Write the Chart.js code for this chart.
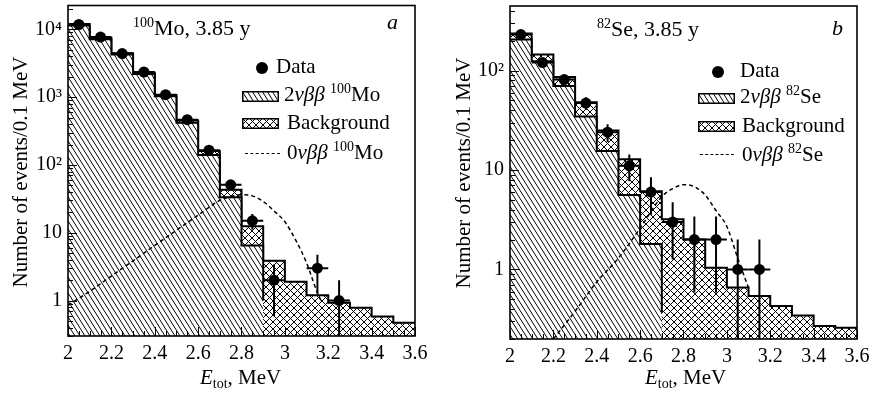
<!DOCTYPE html>
<html>
<head>
<meta charset="utf-8">
<script src="https://cdn.jsdelivr.net/npm/chart.js@4/dist/chart.umd.min.js"></script>
<style>
  body { margin: 0; background: #fff; }
  #wrap { position: relative; width: 872px; height: 396px; overflow: hidden;
          font-family: 'Liberation Serif', 'Times New Roman', serif; color: #000; }
  #wrap canvas { position: absolute; top: 0; }
  .t { position: absolute; white-space: nowrap; line-height: 1; font-size: 21px; }
  .big { font-size: 22px; }
  .t sup { font-size: 14px; position: relative; top: -8px; vertical-align: baseline; }
  .t sub { font-size: 14px; position: relative; top: 4px; vertical-align: baseline; }
  .ytitle { position: absolute; width: 300px; height: 24px; line-height: 24px; font-size: 21px;
            text-align: center; transform: rotate(-90deg); white-space: nowrap; }
  .patch { position: absolute; }
  .dot { position: absolute; width: 12px; height: 12px; border-radius: 50%; background: #000; }
  .dash { position: absolute; height: 0; border-top: 1.5px dashed #000; }
</style>
</head>
<body>
<div id="wrap">
  <canvas id="ca" width="436" height="396" style="left:0"></canvas>
  <canvas id="cb" width="436" height="396" style="left:436px"></canvas>

  <!-- panel a -->
  <div class="t big" style="left:133px;top:17px"><sup>100</sup>Mo, 3.85 y</div>
  <div class="t big" style="left:387px;top:11px"><i>a</i></div>
  <div class="dot" style="left:256px;top:62px"></div>
  <div class="t" style="left:276px;top:56px">Data</div>
  <canvas class="patch" id="pa1" width="37" height="11" style="left:242px;top:91px"></canvas>
  <div class="t" style="left:284px;top:84px">2<i>νββ</i> <sup>100</sup>Mo</div>
  <canvas class="patch" id="pa2" width="37" height="11" style="left:242px;top:118px"></canvas>
  <div class="t" style="left:287px;top:112px">Background</div>
  <div class="dash" style="left:245px;top:153px;width:35px"></div>
  <div class="t" style="left:287px;top:142px">0<i>νββ</i> <sup>100</sup>Mo</div>
  <div class="t" style="left:200px;top:367px"><i>E</i><sub>tot</sub>, MeV</div>
  <div class="ytitle" style="left:-130px;top:160px">Number of events/0.1 MeV</div>

  <!-- panel b -->
  <div class="t big" style="left:597px;top:18px"><sup>82</sup>Se, 3.85 y</div>
  <div class="t big" style="left:832px;top:17px"><i>b</i></div>
  <div class="dot" style="left:712px;top:66px"></div>
  <div class="t" style="left:740px;top:60px">Data</div>
  <canvas class="patch" id="pb1" width="37" height="11" style="left:698px;top:93px"></canvas>
  <div class="t" style="left:740px;top:86px">2<i>νββ</i> <sup>82</sup>Se</div>
  <canvas class="patch" id="pb2" width="37" height="11" style="left:698px;top:121px"></canvas>
  <div class="t" style="left:742px;top:115px">Background</div>
  <div class="dash" style="left:700px;top:154px;width:34px"></div>
  <div class="t" style="left:742px;top:144px">0<i>νββ</i> <sup>82</sup>Se</div>
  <div class="t" style="left:645px;top:367px"><i>E</i><sub>tot</sub>, MeV</div>
  <div class="ytitle" style="left:313px;top:161px">Number of events/0.1 MeV</div>
</div>

<script>
// ---- data ----
const binLeft = [2.0, 2.1, 2.2, 2.3, 2.4, 2.5, 2.6, 2.7, 2.8, 2.9, 3.0, 3.1, 3.2, 3.3, 3.4, 3.5];
const binEnd = 3.6;
const binWidth = 0.1;

const xTicks = [2, 2.2, 2.4, 2.6, 2.8, 3, 3.2, 3.4, 3.6];
const xTickLabels = ['2', '2.2', '2.4', '2.6', '2.8', '3', '3.2', '3.4', '3.6'];

// 100Mo
const moTotal = [12000, 7500, 4450, 2300, 1080, 453, 161, 43, 12.5, 3.85, 1.9, 1.2, 0.93, 0.78, 0.58, 0.47];
const moTwoNu = [11400, 7150, 4250, 2200, 1030, 420, 140, 33.5, 6.5, 1.0, 0, 0, 0, 0, 0, 0];
const moDataE = [2.05, 2.15, 2.25, 2.35, 2.45, 2.55, 2.65, 2.75, 2.85, 2.95, 3.15, 3.25];
const moDataN = [11800, 7700, 4400, 2350, 1090, 465, 165, 51, 15, 2, 3, 1];
const moZeroNuE = [2.0, 2.1, 2.2, 2.3, 2.4, 2.5, 2.6, 2.7, 2.75, 2.8, 2.85, 2.9, 2.95, 3.0, 3.05, 3.1, 3.15, 3.17];
const moZeroNuY = [0.85, 1.37, 2.3, 3.85, 6.5, 10.9, 18.2, 30, 34.5, 36.5, 35, 29, 21, 14.5, 7.8, 3.6, 1.3, 0.95];
const moYTicks = [1, 10, 100, 1000, 10000];
const moYLabels = ['1', '10', '10²', '10³', '10⁴'];

// 82Se
const seTotal = [235, 145, 86, 48, 25, 12.8, 6.1, 3.2, 2.0, 1.04, 0.66, 0.54, 0.43, 0.345, 0.27, 0.26];
const seTwoNu = [205, 124, 70, 34.5, 15.5, 5.6, 1.8, 0.37, 0, 0, 0, 0, 0, 0, 0, 0];
const seDataE = [2.05, 2.15, 2.25, 2.35, 2.45, 2.55, 2.65, 2.75, 2.85, 2.95, 3.05, 3.15];
const seDataN = [230, 120, 81, 47, 24, 11, 6, 3, 2, 2, 1, 1];
const seZeroNuE = [2.2, 2.3, 2.4, 2.5, 2.6, 2.7, 2.75, 2.8, 2.85, 2.9, 2.95, 3.0, 3.05, 3.1];
const seZeroNuY = [0.2, 0.38, 0.75, 1.3, 2.6, 5.4, 6.5, 7.1, 6.8, 5.6, 3.9, 2.7, 1.3, 0.65];
const seYTicks = [1, 10, 100];
const seYLabels = ['1', '10', '10²'];

// ---- helpers ----
function hatch(ctx, kind) {
  const c = document.createElement('canvas');
  c.width = kind === 'diag' ? 5 : 7;
  c.height = kind === 'diag' ? 8 : 7;
  const g = c.getContext('2d');
  const w = c.width, h = c.height;
  g.fillStyle = '#fff';
  g.fillRect(0, 0, w, h);
  g.strokeStyle = '#000';
  g.lineWidth = 1;
  g.beginPath();
  for (const dx of [-w, 0, w]) {
    g.moveTo(dx, 0); g.lineTo(dx + w, h);
    if (kind === 'cross') { g.moveTo(dx + w, 0); g.lineTo(dx, h); }
  }
  g.stroke();
  return ctx.createPattern(c, 'repeat');
}

function steps(vals) {
  const pts = binLeft.map((x, i) => ({ x: x, y: vals[i] }));
  pts.push({ x: binEnd, y: vals[vals.length - 1] });
  return pts;
}

function pairs(xs, ys) { return xs.map((x, i) => ({ x: x, y: ys[i] })); }

function makeDeco(dataE, dataN) {
  return {
    id: 'deco',
    afterDatasetsDraw(chart) {
      const { ctx, chartArea: a, scales: { x, y } } = chart;
      ctx.save();
      ctx.beginPath();
      ctx.rect(a.left, a.top, a.right - a.left, a.bottom - a.top);
      ctx.clip();
      // error bars
      ctx.strokeStyle = '#000';
      ctx.lineWidth = 2;
      dataE.forEach((e, i) => {
        const n = dataN[i], s = Math.sqrt(n);
        const px = x.getPixelForValue(e);
        const py = y.getPixelForValue(n);
        const lo = n - s;
        const yBot = lo > y.min ? y.getPixelForValue(lo) : a.bottom;
        ctx.beginPath();
        ctx.moveTo(px, y.getPixelForValue(n + s));
        ctx.lineTo(px, yBot);
        ctx.moveTo(x.getPixelForValue(e - binWidth / 2), py);
        ctx.lineTo(x.getPixelForValue(e + binWidth / 2), py);
        ctx.stroke();
      });
      ctx.restore();

      // inward tick marks
      ctx.save();
      ctx.strokeStyle = '#000';
      ctx.lineWidth = 1;
      ctx.beginPath();
      const d0 = Math.floor(Math.log10(y.min)), d1 = Math.ceil(Math.log10(y.max));
      for (let d = d0; d <= d1; d++) {
        for (let k = 1; k <= 9; k++) {
          const v = k * Math.pow(10, d);
          if (v < y.min || v > y.max) continue;
          const py = Math.round(y.getPixelForValue(v)) + 0.5;
          ctx.moveTo(a.left, py);
          ctx.lineTo(a.left + (k === 1 ? 9 : 5), py);
        }
      }
      for (let i = 0; ; i++) {
        const v = x.min + i * 0.05;
        if (v > x.max + 1e-9) break;
        const px = Math.round(x.getPixelForValue(v)) + 0.5;
        ctx.moveTo(px, a.bottom);
        ctx.lineTo(px, a.bottom - (i % 4 === 0 ? 9 : 5));
      }
      ctx.stroke();
      // frame
      ctx.lineWidth = 1.6;
      ctx.strokeRect(a.left, a.top, a.right - a.left, a.bottom - a.top);
      ctx.restore();
    }
  };
}

function build(id, cfg) {
  const canvas = document.getElementById(id);
  const ctx = canvas.getContext('2d');
  const diag = hatch(ctx, 'diag');
  const cross = hatch(ctx, 'cross');
  return new Chart(canvas, {
    type: 'line',
    data: {
      datasets: [
        {
          label: 'Data', data: pairs(cfg.dataE, cfg.dataN), showLine: false,
          pointRadius: 5.5, pointBackgroundColor: '#000', pointBorderWidth: 0, order: 0
        },
        {
          label: '0vbb', data: pairs(cfg.zeroE, cfg.zeroY), borderColor: '#000', borderWidth: 1.5,
          borderDash: [4, 3], pointRadius: 0, fill: false, cubicInterpolationMode: 'monotone', order: 1
        },
        {
          label: '2vbb', data: steps(cfg.twoNu), stepped: true, borderColor: '#000', borderWidth: 2,
          pointRadius: 0, fill: 'start', backgroundColor: diag, order: 2
        },
        {
          label: 'Background', data: steps(cfg.total), stepped: true, borderColor: '#000', borderWidth: 2,
          pointRadius: 0, fill: 'start', backgroundColor: cross, order: 3
        }
      ]
    },
    options: {
      responsive: false,
      animation: false,
      events: [],
      layout: { padding: { left: 0, right: cfg.padRight, top: cfg.padTop, bottom: 0 } },
      plugins: { legend: { display: false }, tooltip: { enabled: false } },
      scales: {
        x: {
          type: 'linear', min: 2, max: 3.6,
          grid: { display: false, drawTicks: false }, border: { display: false },
          ticks: {
            autoSkip: false, maxRotation: 0, padding: 6, color: '#000',
            font: { family: 'Liberation Serif', size: 20 },
            callback: (v, i) => xTickLabels[i]
          },
          afterBuildTicks: s => { s.ticks = xTicks.map(v => ({ value: v })); },
          afterFit: s => { s.height = cfg.xHeight; s.paddingLeft = 0; s.paddingRight = 0; }
        },
        y: {
          type: 'logarithmic', min: cfg.yMin, max: cfg.yMax,
          grid: { display: false, drawTicks: false }, border: { display: false },
          ticks: {
            autoSkip: false, padding: 6, color: '#000',
            font: { family: 'Liberation Serif', size: 20 },
            callback: (v, i) => cfg.yLabels[i]
          },
          afterBuildTicks: s => { s.ticks = cfg.yTicks.map(v => ({ value: v })); },
          afterFit: s => { s.width = cfg.yWidth; s.paddingTop = 0; s.paddingBottom = 0; }
        }
      }
    },
    plugins: [makeDeco(cfg.dataE, cfg.dataN)]
  });
}

build('ca', {
  dataE: moDataE, dataN: moDataN, zeroE: moZeroNuE, zeroY: moZeroNuY,
  twoNu: moTwoNu, total: moTotal, yTicks: moYTicks, yLabels: moYLabels,
  yMin: 0.315, yMax: 22500, padRight: 21, padTop: 4, xHeight: 60, yWidth: 68
});
build('cb', {
  dataE: seDataE, dataN: seDataN, zeroE: seZeroNuE, zeroY: seZeroNuY,
  twoNu: seTwoNu, total: seTotal, yTicks: seYTicks, yLabels: seYLabels,
  yMin: 0.2, yMax: 445, padRight: 15, padTop: 6, xHeight: 57, yWidth: 74
});

// legend patches
function patch(id, kind) {
  const c = document.getElementById(id);
  const g = c.getContext('2d');
  g.fillStyle = hatch(g, kind);
  g.fillRect(0, 0, c.width, c.height);
  g.strokeStyle = '#000';
  g.lineWidth = 1.5;
  g.strokeRect(0.75, 0.75, c.width - 1.5, c.height - 1.5);
}
patch('pa1', 'diag'); patch('pa2', 'cross');
patch('pb1', 'diag'); patch('pb2', 'cross');
</script>
</body>
</html>
